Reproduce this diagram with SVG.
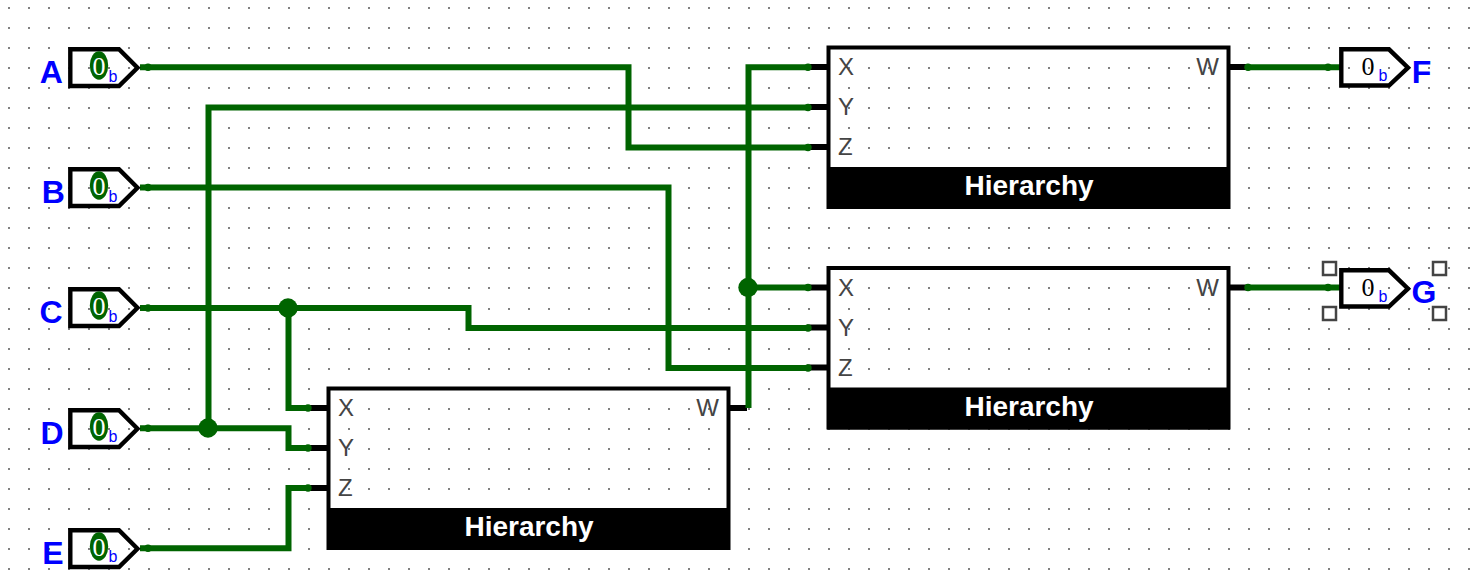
<svg xmlns="http://www.w3.org/2000/svg" width="1480" height="582" viewBox="0 0 1480 582">
<defs>
<pattern id="grid" x="8" y="7" width="20" height="20" patternUnits="userSpaceOnUse"><rect width="2" height="2" fill="#808080"/></pattern>
<pattern id="grid2" x="8" y="8" width="20" height="20" patternUnits="userSpaceOnUse"><rect width="2" height="2" fill="#808080"/></pattern>
<g id="block-shape">
<rect x="1.500" y="1.500" width="400" height="159.500" fill="none" stroke="#000" stroke-width="4"/>
<rect x="0" y="121" width="403" height="42" fill="#000"/>
<path class="stub" d="M-20 21H0M-20 61H0M-20 101H0M402 21H420"/>
<text class="pl" x="11" y="29">X</text>
<text class="pl" x="11" y="69">Y</text>
<text class="pl" x="11" y="109">Z</text>
<text class="pl" x="392" y="29" text-anchor="end">W</text>
<text class="hd" x="202" y="149">Hierarchy</text>
</g>
<polygon id="in-shape" class="pin" points="70.300,49.300 119,49.300 137.500,67.700 119,86 70.300,86"/>
<polygon id="out-shape" class="pin" points="1341.300,49.300 1389,49.300 1408,67.700 1389,85.500 1341.300,85.500"/>
</defs>
<style>
.w{fill:none;stroke:#006400;stroke-width:6;stroke-linejoin:miter}
.stub{fill:none;stroke:#000;stroke-width:6}
.pin{fill:none;stroke:#000;stroke-width:4.400}
.pl{font:24px "Liberation Sans",Arial,sans-serif;fill:#444}
.hd{font:bold 28px "Liberation Sans",Arial,sans-serif;fill:#fff;text-anchor:middle}
.nm{font:bold 32px "Liberation Sans",Arial,sans-serif;fill:#00f;text-anchor:middle}
.z{font:26px "Liberation Serif",serif;text-anchor:middle}
.b{font:16px "Liberation Sans",Arial,sans-serif;fill:#00f}
.dot{fill:#006400}
.h{fill:#fff;stroke:#444;stroke-width:2.500}
</style>
<rect width="1480" height="582" fill="#fff"/>
<rect width="1480" height="298" fill="url(#grid)"/>
<rect y="298" width="1480" height="284" fill="url(#grid2)"/>
<g id="block1"><use href="#block-shape" x="827" y="46"/></g>
<g id="block2"><use href="#block-shape" x="827" y="266.500"/></g>
<g id="block3"><use href="#block-shape" x="327" y="387"/></g>
<g id="connectors">
<path class="w" d="M140 67.300H628.500V147.500H808"/>
<path class="w" d="M208.500 428V107.500H808"/>
<path class="w" d="M140 187.500H668.500V368H808"/>
<path class="w" d="M140 308H468.500V328H808"/>
<path class="w" d="M288.500 308V408H308"/>
<path class="w" d="M140 428.300H288.500V448H308"/>
<path class="w" d="M140 548.300H288.500V488H308"/>
<path class="w" d="M748.500 408V67.300H808"/>
<path class="w" d="M748.500 287.500H808"/>
<path class="w" d="M1248 67.300H1340"/>
<path class="w" d="M1248 287.500H1340"/>
<g class="dot">
<circle cx="288" cy="308" r="9.700"/><circle cx="208" cy="428" r="9.700"/><circle cx="748" cy="287.500" r="9.700"/>
<circle cx="148" cy="67.300" r="3.700"/><circle cx="148" cy="187.500" r="3.700"/><circle cx="148" cy="308" r="3.700"/><circle cx="148" cy="428.300" r="3.700"/><circle cx="148" cy="548.300" r="3.700"/>
<circle cx="808" cy="67.300" r="3.700"/><circle cx="808" cy="107.500" r="3.700"/><circle cx="808" cy="147.500" r="3.700"/>
<circle cx="808" cy="287.500" r="3.700"/><circle cx="808" cy="328" r="3.700"/><circle cx="808" cy="368" r="3.700"/>
<circle cx="308" cy="408" r="3.700"/><circle cx="308" cy="448" r="3.700"/><circle cx="308" cy="488" r="3.700"/>
<circle cx="1248" cy="67.300" r="3.700"/><circle cx="1328" cy="67.300" r="3.700"/><circle cx="1248" cy="287.500" r="3.700"/><circle cx="1328" cy="287.500" r="3.700"/>
</g>
</g>
<g id="pinA"><use href="#in-shape"/><ellipse class="dot" cx="99" cy="65.500" rx="9.200" ry="14.200"/><text class="z" x="99" y="75" fill="#fff">0</text><text class="b" x="108.500" y="81.500">b</text><text class="nm" x="51.300" y="83.300">A</text></g>
<g id="pinB"><use href="#in-shape" y="120"/><ellipse class="dot" cx="99" cy="185.500" rx="9.200" ry="14.200"/><text class="z" x="99" y="195" fill="#fff">0</text><text class="b" x="108.500" y="201.500">b</text><text class="nm" x="53.300" y="203">B</text></g>
<g id="pinC"><use href="#in-shape" y="240"/><ellipse class="dot" cx="99" cy="305.500" rx="9.200" ry="14.200"/><text class="z" x="99" y="315" fill="#fff">0</text><text class="b" x="108.500" y="321.500">b</text><text class="nm" x="51" y="323">C</text></g>
<g id="pinD"><use href="#in-shape" y="361"/><ellipse class="dot" cx="99" cy="426.500" rx="9.200" ry="14.200"/><text class="z" x="99" y="436" fill="#fff">0</text><text class="b" x="108.500" y="442">b</text><text class="nm" x="52" y="444">D</text></g>
<g id="pinE"><use href="#in-shape" y="481"/><ellipse class="dot" cx="99" cy="546.500" rx="9.200" ry="14.200"/><text class="z" x="99" y="556" fill="#fff">0</text><text class="b" x="108.500" y="562">b</text><text class="nm" x="53" y="564">E</text></g>
<g id="pinF"><use href="#out-shape"/><text class="z" x="1368" y="75" fill="#000">0</text><text class="b" x="1378.500" y="81">b</text><text class="nm" x="1421.500" y="83">F</text></g>
<g id="pinG"><use href="#out-shape" y="221"/><text class="z" x="1368" y="295.500" fill="#000">0</text><text class="b" x="1378.500" y="302">b</text><text class="nm" x="1424" y="303">G</text>
<rect class="h" x="1323" y="262" width="13" height="13"/><rect class="h" x="1433" y="262" width="13" height="13"/><rect class="h" x="1323" y="307" width="13" height="13"/><rect class="h" x="1433" y="307" width="13" height="13"/></g>
</svg>
